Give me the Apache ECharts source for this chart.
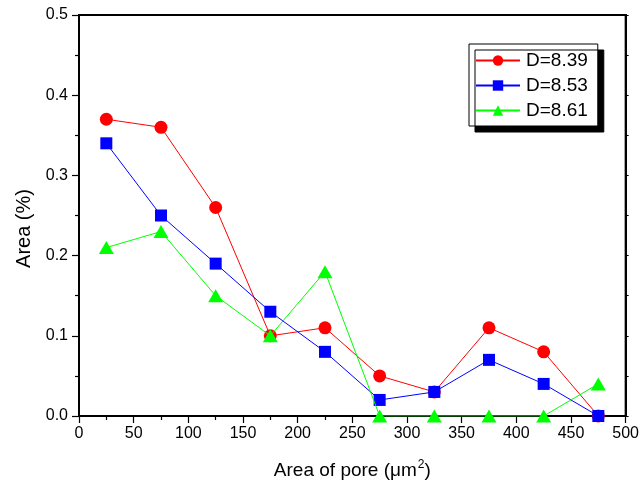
<!DOCTYPE html>
<html>
<head>
<meta charset="utf-8">
<style>
  html, body { margin: 0; padding: 0; background: #fff; }
  #chart { width: 642px; height: 491px; }
</style>
<script src="https://cdn.jsdelivr.net/npm/echarts@6/dist/echarts.min.js"></script>
</head>
<body>
<div id="chart"></div>
<script>
// Pore-area classes (bin centres, µm²)
const poreArea = [25, 75, 125, 175, 225, 275, 325, 375, 425, 475];

// Area fraction per class for each fractal dimension
const areaD839 = [0.37, 0.36, 0.26, 0.10, 0.11, 0.05, 0.03, 0.11, 0.08, 0.00];
const areaD853 = [0.34, 0.25, 0.19, 0.13, 0.08, 0.02, 0.03, 0.07, 0.04, 0.00];
const areaD861 = [0.21, 0.23, 0.15, 0.10, 0.18, 0.00, 0.00, 0.00, 0.00, 0.04];

const seriesNames = ['D=8.39', 'D=8.53', 'D=8.61'];

const pairs = vals => poreArea.map((x, i) => [x, vals[i]]);

const FONT = 'Liberation Sans, Arial, sans-serif';

const chart = echarts.init(document.getElementById('chart'), null, { renderer: 'canvas' });

const axisLine = { show: true, onZero: false, lineStyle: { color: '#000', width: 2 } };

chart.setOption({
  animation: false,
  backgroundColor: '#fff',
  // framed plot area
  grid: {
    left: 79, right: 15, top: 15, bottom: 75, containLabel: false,
    show: true, borderColor: '#000', borderWidth: 2, backgroundColor: 'rgba(0,0,0,0)'
  },
  xAxis: [
    {
      type: 'value', min: 0, max: 500, interval: 50, position: 'bottom',
      axisLine: axisLine,
      axisTick: { show: true, inside: false, length: 7, lineStyle: { color: '#000', width: 1.2 } },
      minorTick: { show: true, splitNumber: 2, length: 4, lineStyle: { color: '#000', width: 1.2 } },
      splitLine: { show: false },
      axisLabel: { color: '#000', fontFamily: FONT, fontSize: 16, margin: 10 },
      name: 'Area of pore (\u03bcm{sup|2})',
      nameLocation: 'middle', nameGap: 43,
      nameTextStyle: {
        color: '#000', fontFamily: FONT, fontSize: 19,
        rich: { sup: { fontSize: 12, verticalAlign: 'top', padding: [0, 0, 12, 1], color: '#000', fontFamily: FONT } }
      }
    },
    {
      type: 'value', min: 0, max: 500, interval: 50, position: 'top',
      axisLine: axisLine, axisTick: { show: false }, minorTick: { show: false },
      axisLabel: { show: false }, splitLine: { show: false }
    }
  ],
  yAxis: [
    {
      type: 'value', min: 0, max: 0.5, interval: 0.1, position: 'left',
      axisLine: axisLine,
      axisTick: { show: true, inside: false, length: 7, lineStyle: { color: '#000', width: 1.2 } },
      minorTick: { show: true, splitNumber: 2, length: 4, lineStyle: { color: '#000', width: 1.2 } },
      splitLine: { show: false },
      axisLabel: { color: '#000', fontFamily: FONT, fontSize: 16, margin: 11, formatter: v => v.toFixed(1) },
      name: 'Area (%)', nameLocation: 'middle', nameGap: 45, nameRotate: 90,
      nameTextStyle: { color: '#000', fontFamily: FONT, fontSize: 20, padding: [0, 26, 0, 0] }
    },
    {
      type: 'value', min: 0, max: 0.5, interval: 0.1, position: 'right',
      axisLine: axisLine,
      axisTick: { show: true, inside: false, length: 3, lineStyle: { color: '#000', width: 1 } },
      minorTick: { show: true, splitNumber: 2, length: 3, lineStyle: { color: '#000', width: 1 } },
      axisLabel: { show: false }, splitLine: { show: false }
    }
  ],
  legend: {
    orient: 'vertical', left: 469, top: 44,
    data: seriesNames,
    itemWidth: 44, itemHeight: 13, itemGap: 6,
    padding: [7, 10, 6, 6],
    backgroundColor: '#fff', borderColor: '#000', borderWidth: 1,
    shadowColor: '#000', shadowBlur: 0, shadowOffsetX: 6, shadowOffsetY: 6,
    textStyle: { color: '#000', fontFamily: FONT, fontSize: 19, padding: [0, 0, 0, 1] }
  },
  series: [
    {
      name: seriesNames[0], type: 'line', data: pairs(areaD839),
      symbol: 'circle', symbolSize: 13,
      lineStyle: { color: '#ff0000', width: 1 }, itemStyle: { color: '#ff0000' }, z: 3
    },
    {
      name: seriesNames[1], type: 'line', data: pairs(areaD853),
      symbol: 'rect', symbolSize: 12,
      lineStyle: { color: '#0000ff', width: 1 }, itemStyle: { color: '#0000ff' }, z: 4
    },
    {
      name: seriesNames[2], type: 'line', data: pairs(areaD861),
      symbol: 'triangle', symbolSize: [15, 13],
      lineStyle: { color: '#00ff00', width: 1 }, itemStyle: { color: '#00ff00' }, z: 5
    }
  ]
});
</script>
</body>
</html>
